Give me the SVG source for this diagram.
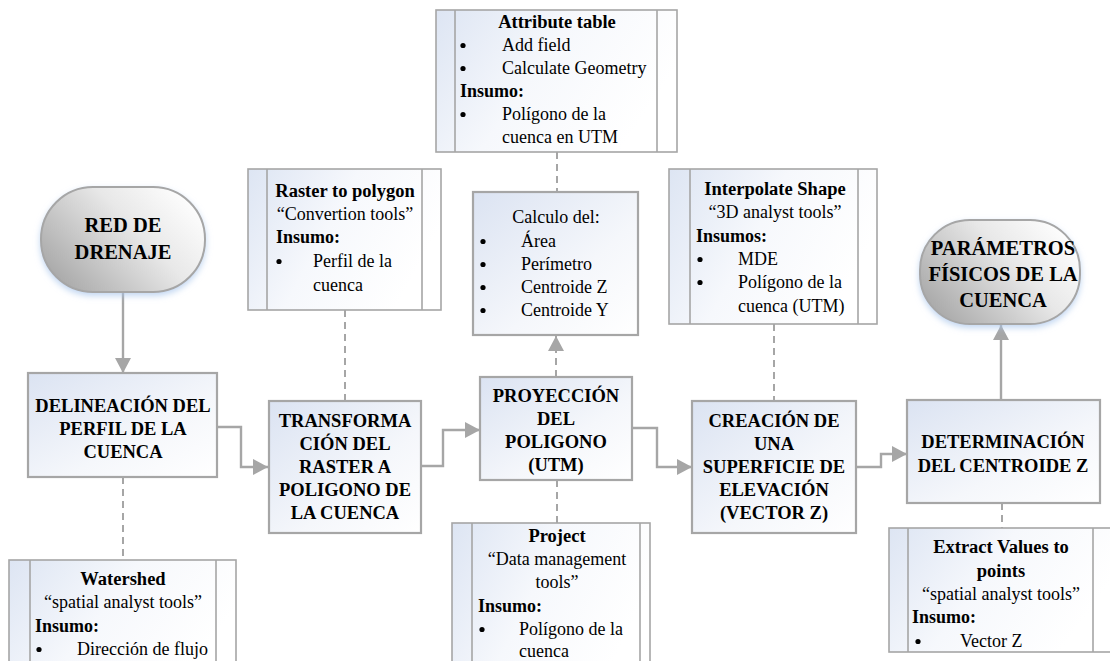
<svg xmlns="http://www.w3.org/2000/svg" width="1110" height="661" viewBox="0 0 1110 661" font-family="'Liberation Serif', 'Times New Roman', 'DejaVu Serif', serif">
  <defs>
    <linearGradient id="gProc" x1="0" y1="0" x2="1" y2="1">
      <stop offset="0" stop-color="#dbe3f2"/>
      <stop offset="0.6" stop-color="#f5f7fb"/>
      <stop offset="1" stop-color="#ffffff"/>
    </linearGradient>
    <linearGradient id="gTool" x1="0" y1="0" x2="1" y2="0.4">
      <stop offset="0" stop-color="#dde5f3"/>
      <stop offset="0.5" stop-color="#f6f8fc"/>
      <stop offset="1" stop-color="#ffffff"/>
    </linearGradient>
    <linearGradient id="gTerm" x1="0" y1="0.8" x2="1" y2="0.2">
      <stop offset="0" stop-color="#a6a6a6"/>
      <stop offset="0.6" stop-color="#e8e8e8"/>
      <stop offset="1" stop-color="#ffffff"/>
    </linearGradient>
    <filter id="shadow" x="-20%" y="-20%" width="140%" height="150%">
      <feGaussianBlur in="SourceAlpha" stdDeviation="3" result="b"/>
      <feOffset in="b" dy="3" result="o"/>
      <feFlood flood-color="#a9c6ec" flood-opacity="0.7"/>
      <feComposite in2="o" operator="in" result="s"/>
      <feMerge><feMergeNode in="s"/><feMergeNode in="SourceGraphic"/></feMerge>
    </filter>
    <marker id="arrow" markerUnits="userSpaceOnUse" markerWidth="16" markerHeight="18" refX="15" refY="9" orient="auto">
      <path d="M0,1 L15,9 L0,17 Z" fill="#a6a6a6"/>
    </marker>
  </defs>
  <style>
    text { font-family: "Liberation Serif", "Times New Roman", "DejaVu Serif", serif; fill: #000; }
    .t { font-size: 18px; }
    .b { font-size: 18px; font-weight: bold; }
    .h { font-size: 18.5px; font-weight: bold; text-anchor: middle; }
    .c { text-anchor: middle; }
    .term { font-size: 20.5px; font-weight: bold; text-anchor: middle; }
    .dot { fill: #000; }
    .proc { fill: url(#gProc); stroke: #a6a6a6; stroke-width: 2.2; }
    .tool { fill: url(#gTool); stroke: #a6a6a6; stroke-width: 1.6; }
    .inner { stroke: #a6a6a6; stroke-width: 1.6; fill: none; }
    .termShape { fill: url(#gTerm); stroke: #a6a6a6; stroke-width: 2; filter: url(#shadow); }
    .conn { fill: none; stroke: #a6a6a6; stroke-width: 2.4; }
    .dash { fill: none; stroke: #a6a6a6; stroke-width: 2; stroke-dasharray: 7 5; }
  </style>

  <!-- connectors -->
  <g id="connectors">
    <path class="conn" d="M123,292 V373" marker-end="url(#arrow)"/>
    <path class="conn" d="M217,427 H241 V467 H268" marker-end="url(#arrow)"/>
    <path class="conn" d="M421,466 H443 V430 H480" marker-end="url(#arrow)"/>
    <path class="conn" d="M632,428 H657 V467 H692" marker-end="url(#arrow)"/>
    <path class="conn" d="M856,467 H881 V454 H907" marker-end="url(#arrow)"/>
    <path class="conn" d="M1001,400 V325" marker-end="url(#arrow)"/>
    <path class="dash" d="M123,477 V560"/>
    <path class="dash" d="M345,310 V401"/>
    <path class="dash" d="M557,152 V192"/>
    <path class="dash" d="M556,377 V336" marker-end="url(#arrow)"/>
    <path class="dash" d="M557,480 V523"/>
    <path class="dash" d="M774,324 V401"/>
    <path class="dash" d="M1002,503 V528"/>
  </g>

  <!-- start terminator -->
  <g id="red-drenaje">
    <rect class="termShape" x="41" y="187" width="164" height="105" rx="52" ry="52"/>
    <text class="term" x="123" y="232">RED DE</text>
    <text class="term" x="123" y="259">DRENAJE</text>
  </g>

  <!-- end terminator -->
  <g id="parametros">
    <rect class="termShape" x="920" y="220" width="160" height="104" rx="50" ry="50"/>
    <text class="term" x="1003" y="255">PARÁMETROS</text>
    <text class="term" x="1003" y="281">FÍSICOS DE LA</text>
    <text class="term" x="1003" y="307">CUENCA</text>
  </g>

  <!-- process steps -->
  <g id="delineacion">
    <rect class="proc" x="28" y="373" width="189" height="104"/>
    <text class="h" x="123" y="412">DELINEACIÓN DEL</text>
    <text class="h" x="123" y="435">PERFIL DE LA</text>
    <text class="h" x="123" y="458">CUENCA</text>
  </g>

  <g id="transformacion">
    <rect class="proc" x="269" y="401" width="152" height="132"/>
    <text class="h" x="345" y="427">TRANSFORMA</text>
    <text class="h" x="345" y="450">CIÓN DEL</text>
    <text class="h" x="345" y="473">RASTER A</text>
    <text class="h" x="345" y="496">POLIGONO DE</text>
    <text class="h" x="345" y="519">LA CUENCA</text>
  </g>

  <g id="proyeccion">
    <rect class="proc" x="480" y="377" width="152" height="103"/>
    <text class="h" x="556" y="402">PROYECCIÓN</text>
    <text class="h" x="556" y="425">DEL</text>
    <text class="h" x="556" y="448">POLIGONO</text>
    <text class="h" x="556" y="471">(UTM)</text>
  </g>

  <g id="creacion">
    <rect class="proc" x="692" y="401" width="164" height="132"/>
    <text class="h" x="774" y="427">CREACIÓN DE</text>
    <text class="h" x="774" y="450">UNA</text>
    <text class="h" x="774" y="473">SUPERFICIE DE</text>
    <text class="h" x="774" y="496">ELEVACIÓN</text>
    <text class="h" x="774" y="519">(VECTOR Z)</text>
  </g>

  <g id="determinacion">
    <rect class="proc" x="907" y="400" width="193" height="103"/>
    <text class="h" x="1003" y="448">DETERMINACIÓN</text>
    <text class="h" x="1003" y="472">DEL CENTROIDE Z</text>
  </g>

  <!-- results box -->
  <g id="calculo">
    <rect class="proc" x="473" y="192" width="165" height="143"/>
    <text class="t c" x="556" y="223">Calculo del:</text>
    <circle class="dot" cx="483" cy="241.5" r="2.6"/><text class="t" x="521" y="247">Área</text>
    <circle class="dot" cx="483" cy="264.5" r="2.6"/><text class="t" x="521" y="270">Perímetro</text>
    <circle class="dot" cx="483" cy="287.5" r="2.6"/><text class="t" x="521" y="293">Centroide Z</text>
    <circle class="dot" cx="483" cy="310.5" r="2.6"/><text class="t" x="521" y="316">Centroide Y</text>
  </g>

  <!-- tool boxes -->
  <g id="attribute-table">
    <rect class="tool" x="436" y="10" width="241" height="142"/>
    <path class="inner" d="M455,10 V152 M657,10 V152"/>
    <text class="h" x="557" y="28">Attribute table</text>
    <circle class="dot" cx="463" cy="45.5" r="2.6"/><text class="t" x="502" y="51">Add field</text>
    <circle class="dot" cx="463" cy="68.5" r="2.6"/><text class="t" x="502" y="74">Calculate Geometry</text>
    <text class="b" x="460" y="97">Insumo:</text>
    <circle class="dot" cx="463" cy="114.5" r="2.6"/><text class="t" x="502" y="120">Polígono de la</text>
    <text class="t" x="502" y="143">cuenca en UTM</text>
  </g>

  <g id="raster-to-polygon">
    <rect class="tool" x="248" y="169" width="193" height="141"/>
    <path class="inner" d="M267,169 V310 M422,169 V310"/>
    <text class="h" x="345" y="197">Raster to polygon</text>
    <text class="t c" x="345" y="220">“Convertion tools”</text>
    <text class="b" x="276" y="243">Insumo:</text>
    <circle class="dot" cx="279" cy="261.5" r="2.6"/><text class="t" x="313" y="267">Perfil de la</text>
    <text class="t" x="313" y="291">cuenca</text>
  </g>

  <g id="interpolate-shape">
    <rect class="tool" x="669" y="169" width="208" height="155"/>
    <path class="inner" d="M690,169 V324 M858,169 V324"/>
    <text class="h" x="775" y="195">Interpolate Shape</text>
    <text class="t c" x="775" y="218">“3D analyst tools”</text>
    <text class="b" x="696" y="242">Insumos:</text>
    <circle class="dot" cx="700" cy="259.5" r="2.6"/><text class="t" x="738" y="265">MDE</text>
    <circle class="dot" cx="700" cy="282.5" r="2.6"/><text class="t" x="738" y="288">Polígono de la</text>
    <text class="t" x="738" y="312">cuenca (UTM)</text>
  </g>

  <g id="watershed">
    <rect class="tool" x="9" y="560" width="227" height="120"/>
    <path class="inner" d="M30,560 V661 M216,560 V661"/>
    <text class="h" x="123" y="585">Watershed</text>
    <text class="t c" x="123" y="608">“spatial analyst tools”</text>
    <text class="b" x="35" y="632">Insumo:</text>
    <circle class="dot" cx="39" cy="649.5" r="2.6"/><text class="t" x="77" y="655">Dirección de flujo</text>
  </g>

  <g id="project">
    <rect class="tool" x="452" y="523" width="198" height="160"/>
    <path class="inner" d="M472,523 V661 M640,523 V661"/>
    <text class="h" x="557" y="542">Project</text>
    <text class="t c" x="557" y="565">“Data management</text>
    <text class="t c" x="557" y="588">tools”</text>
    <text class="b" x="478" y="612">Insumo:</text>
    <circle class="dot" cx="482" cy="629.5" r="2.6"/><text class="t" x="519" y="635">Polígono de la</text>
    <text class="t" x="519" y="657">cuenca</text>
  </g>

  <g id="extract-values">
    <rect class="tool" x="889" y="528" width="225" height="124"/>
    <path class="inner" d="M908,528 V652 M1093,528 V652"/>
    <text class="h" x="1001" y="553">Extract Values to</text>
    <text class="h" x="1001" y="577">points</text>
    <text class="t c" x="1001" y="600">“spatial analyst tools”</text>
    <text class="b" x="912" y="623">Insumo:</text>
    <circle class="dot" cx="918" cy="641.5" r="2.6"/><text class="t" x="960" y="647">Vector Z</text>
  </g>
</svg>
